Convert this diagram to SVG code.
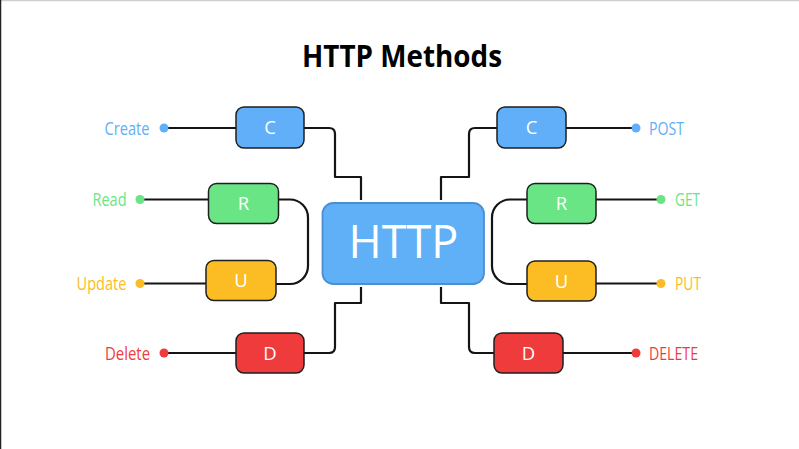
<svg xmlns="http://www.w3.org/2000/svg" width="799" height="449" viewBox="0 0 799 449">
<style>
.t{font-family:"Open Sans","Noto Sans","DejaVu Sans",sans-serif}
.lbl{font-size:18.5px}
.box{stroke:#1f1f1f;stroke-width:1.5}
.bl{fill:#fff;font-size:18.5px;text-anchor:middle}
.con{fill:none;stroke:#141414;stroke-width:2.2;stroke-linejoin:round}
.blue{fill:#60aff8}.green{fill:#6ae585}.yellow{fill:#fbbd23}.red{fill:#ef3b3b}
</style>
<rect x="0" y="0" width="799" height="449" fill="#fff"/>
<line x1="0" y1="0.5" x2="799" y2="0.5" stroke="#cfcfcf" stroke-width="1.5"/>
<line x1="0.5" y1="0" x2="0.5" y2="449" stroke="#222" stroke-width="1.5"/>
<text class="t" x="402" y="67" font-size="30" font-weight="700" text-anchor="middle" textLength="200" lengthAdjust="spacingAndGlyphs">HTTP Methods</text>
<g id="connectors">
<path class="con" d="M304 128 H329 Q335 128 335 134 V177 H361 V200"/>
<path class="con" d="M304 353 H329 Q335 353 335 347 V303 H361 V287"/>
<path class="con" d="M497 128 H475 Q469 128 469 134 V177 H441 V200"/>
<path class="con" d="M494 353 H475 Q469 353 469 347 V303 H441 V287"/>
<path class="con" d="M278 199.5 H290 A18 18 0 0 1 308 217.5 V266 A18 18 0 0 1 290 284 H276"/>
<path class="con" d="M527 199.5 H510 A18 18 0 0 0 492 217.5 V266 A18 18 0 0 0 510 284 H527"/>
<path class="con" d="M164 128 H236"/>
<path class="con" d="M140 199.5 H208"/>
<path class="con" d="M140 283.5 H206"/>
<path class="con" d="M164 353 H236"/>
<path class="con" d="M566 128 H636"/>
<path class="con" d="M596 199.5 H661"/>
<path class="con" d="M596 283.5 H661"/>
<path class="con" d="M563 353 H636"/>
</g>
<g id="http">
<rect x="322.5" y="203" width="161.5" height="81" rx="11" fill="#60b0f8" stroke="#4a8fd2" stroke-width="1.8"/>
<text class="t" x="403.5" y="258" font-size="45" font-weight="500" fill="#fff" text-anchor="middle">HTTP</text>
</g>
<g id="create">
<circle cx="164" cy="128" r="4.5" class="blue"/>
<text class="t lbl blue" x="149.5" y="135" text-anchor="end" textLength="45" lengthAdjust="spacingAndGlyphs">Create</text>
</g>
<g id="read">
<circle cx="140" cy="199.5" r="4.5" class="green"/>
<text class="t lbl green" x="126.5" y="206" text-anchor="end" textLength="34" lengthAdjust="spacingAndGlyphs">Read</text>
</g>
<g id="update">
<circle cx="140" cy="283.5" r="4.5" class="yellow"/>
<text class="t lbl yellow" x="126.5" y="290" text-anchor="end" textLength="50" lengthAdjust="spacingAndGlyphs">Update</text>
</g>
<g id="delete">
<circle cx="164" cy="353" r="4.5" class="red"/>
<text class="t lbl red" x="150" y="360" text-anchor="end" textLength="45" lengthAdjust="spacingAndGlyphs">Delete</text>
</g>
<g id="c-left">
<rect x="236" y="107" width="68" height="41" rx="8" class="box blue"/>
<text class="t bl" x="270" y="134">C</text>
</g>
<g id="r-left">
<rect x="208.5" y="183.5" width="70" height="40" rx="8" class="box green"/>
<text class="t bl" x="243.5" y="210">R</text>
</g>
<g id="u-left">
<rect x="206" y="260.5" width="70" height="40" rx="8" class="box yellow"/>
<text class="t bl" x="241" y="287">U</text>
</g>
<g id="d-left">
<rect x="236" y="333" width="68" height="40" rx="8" class="box red"/>
<text class="t bl" x="270" y="359.5">D</text>
</g>
<g id="c-right">
<rect x="497" y="107" width="69" height="41" rx="8" class="box blue"/>
<text class="t bl" x="531.5" y="134">C</text>
</g>
<g id="r-right">
<rect x="527" y="183.5" width="69" height="40" rx="8" class="box green"/>
<text class="t bl" x="561.5" y="210">R</text>
</g>
<g id="u-right">
<rect x="527" y="261" width="69" height="40" rx="8" class="box yellow"/>
<text class="t bl" x="561.5" y="287.5">U</text>
</g>
<g id="d-right">
<rect x="494" y="333" width="69" height="40" rx="8" class="box red"/>
<text class="t bl" x="528.5" y="359.5">D</text>
</g>
<g id="post">
<circle cx="636" cy="128" r="4.5" class="blue"/>
<text class="t lbl blue" x="649" y="135" textLength="35" lengthAdjust="spacingAndGlyphs">POST</text>
</g>
<g id="get">
<circle cx="661" cy="199.5" r="4.5" class="green"/>
<text class="t lbl green" x="675" y="206" textLength="25" lengthAdjust="spacingAndGlyphs">GET</text>
</g>
<g id="put">
<circle cx="661" cy="283.5" r="4.5" class="yellow"/>
<text class="t lbl yellow" x="675" y="290" textLength="26" lengthAdjust="spacingAndGlyphs">PUT</text>
</g>
<g id="delete-r">
<circle cx="636" cy="353" r="4.5" class="red"/>
<text class="t lbl red" x="649" y="360" textLength="49" lengthAdjust="spacingAndGlyphs">DELETE</text>
</g>
</svg>
